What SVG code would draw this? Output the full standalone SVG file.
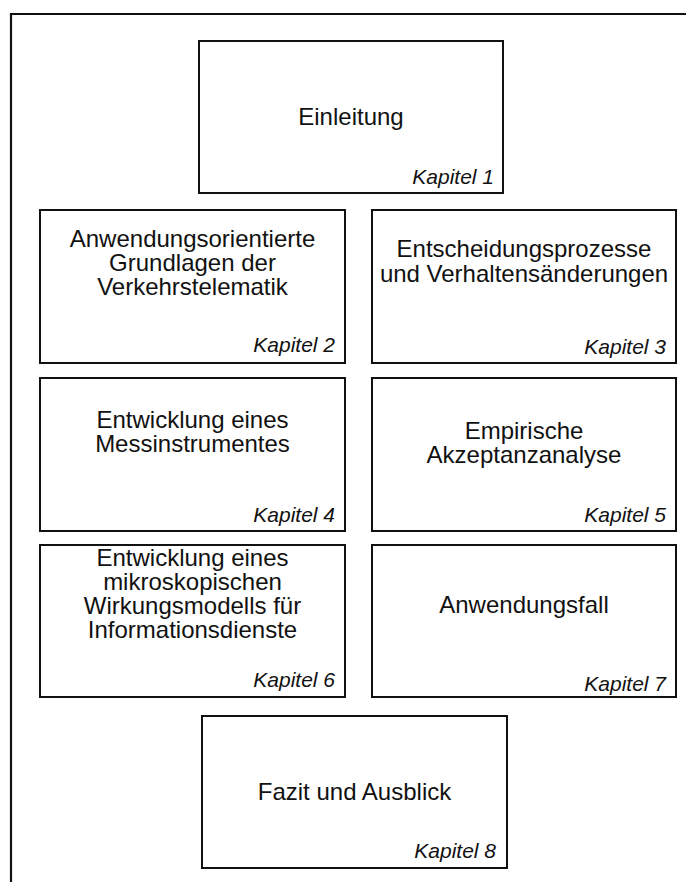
<svg xmlns="http://www.w3.org/2000/svg" width="686" height="882" viewBox="0 0 686 882">
  <style>
    .frame { fill: none; stroke: #111; stroke-width: 2.2; }
    .box { fill: #fff; stroke: #111; stroke-width: 2; }
    .title { font-family: "Liberation Sans", Arial, sans-serif; font-size: 24px; fill: #111; text-anchor: middle; }
    .chap { font-family: "Liberation Sans", Arial, sans-serif; font-size: 21px; font-style: italic; fill: #111; text-anchor: end; }
  </style>
  <rect x="0" y="0" width="686" height="882" fill="#fff"/>
  <!-- outer frame, open to the right and bottom -->
  <path class="frame" d="M11,884 V14 H688"/>

  <g id="connectors"></g>

  <g id="k1">
    <rect class="box" x="199" y="41" width="304" height="152"/>
    <text class="title" x="351" y="125">Einleitung</text>
    <text class="chap" x="494" y="184">Kapitel 1</text>
  </g>

  <g id="k2">
    <rect class="box" x="40" y="210" width="305" height="153"/>
    <text class="title" x="192.5" y="247">Anwendungsorientierte</text>
    <text class="title" x="192.5" y="271">Grundlagen der</text>
    <text class="title" x="192.5" y="295">Verkehrstelematik</text>
    <text class="chap" x="335" y="352">Kapitel 2</text>
  </g>

  <g id="k3">
    <rect class="box" x="372" y="210" width="304" height="153"/>
    <text class="title" x="524" y="257">Entscheidungsprozesse</text>
    <text class="title" x="524" y="281.5">und Verhaltensänderungen</text>
    <text class="chap" x="666" y="354">Kapitel 3</text>
  </g>

  <g id="k4">
    <rect class="box" x="40" y="378" width="305" height="153"/>
    <text class="title" x="192.5" y="428">Entwicklung eines</text>
    <text class="title" x="192.5" y="452">Messinstrumentes</text>
    <text class="chap" x="335" y="522">Kapitel 4</text>
  </g>

  <g id="k5">
    <rect class="box" x="372" y="378" width="304" height="153"/>
    <text class="title" x="524" y="439">Empirische</text>
    <text class="title" x="524" y="463">Akzeptanzanalyse</text>
    <text class="chap" x="666" y="522">Kapitel 5</text>
  </g>

  <g id="k6">
    <rect class="box" x="40" y="545" width="305" height="152"/>
    <text class="title" x="192.5" y="566">Entwicklung eines</text>
    <text class="title" x="192.5" y="590">mikroskopischen</text>
    <text class="title" x="192.5" y="614">Wirkungsmodells für</text>
    <text class="title" x="192.5" y="638">Informationsdienste</text>
    <text class="chap" x="335" y="687">Kapitel 6</text>
  </g>

  <g id="k7">
    <rect class="box" x="372" y="545" width="304" height="152"/>
    <text class="title" x="524" y="613">Anwendungsfall</text>
    <text class="chap" x="666" y="691">Kapitel 7</text>
  </g>

  <g id="k8">
    <rect class="box" x="202" y="716" width="305" height="152"/>
    <text class="title" x="354.5" y="800">Fazit und Ausblick</text>
    <text class="chap" x="496" y="858">Kapitel 8</text>
  </g>
</svg>
